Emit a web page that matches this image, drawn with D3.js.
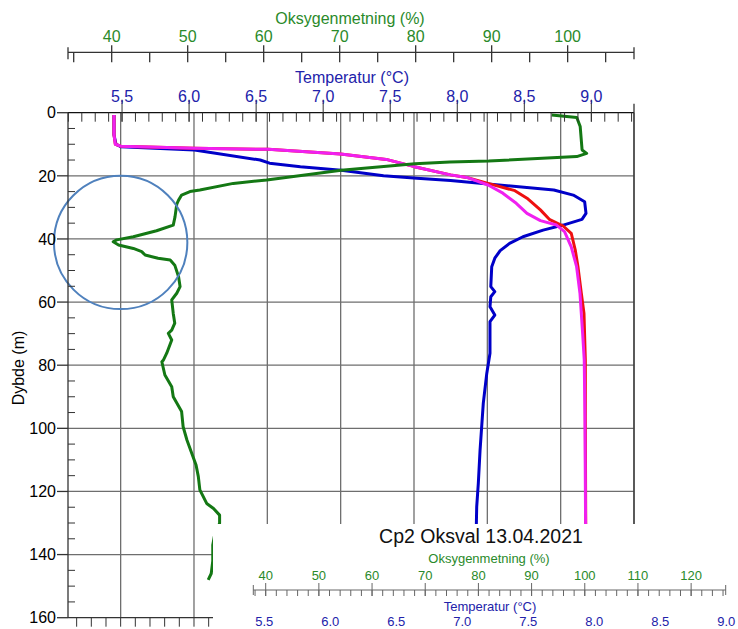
<!DOCTYPE html>
<html>
<head>
<meta charset="utf-8">
<script src="https://cdn.jsdelivr.net/npm/d3@7"></script>
<style>
  body { margin: 0; background: #fff; }
  text { font-family: "Liberation Sans", Arial, sans-serif; }
</style>
</head>
<body>
<div id="chart"></div>
<script>
// profiles: [depth (m), value]
const temperature = [
  [0.7, 5.44], [7, 5.44], [10, 5.455], [10.8, 5.49], [11.8, 6.04], [15, 6.53], [16, 6.60],
  [17.1, 6.83], [18.2, 7.135], [20, 7.45], [20.8, 7.70], [21.5, 7.95], [22.6, 8.23],
  [24.5, 8.72], [26.1, 8.865], [28.2, 8.95], [31.9, 8.96], [33.8, 8.93], [35.6, 8.79],
  [37.2, 8.64], [39.3, 8.49], [41.4, 8.39], [43.7, 8.32], [46.1, 8.28], [48.8, 8.257],
  [55.1, 8.25], [56.7, 8.28], [58.3, 8.25], [61.5, 8.244], [64.1, 8.28], [66.2, 8.244],
  [76.2, 8.244], [82.6, 8.22], [92.1, 8.194], [106.9, 8.17], [117.4, 8.157], [124.8, 8.145],
  [135, 8.14]
];
const seriesMagenta = [
  [0.7, 5.44], [7, 5.44], [10, 5.45], [10.6, 5.49], [11.3, 6.04], [11.6, 6.59], [13.1, 7.13],
  [14.8, 7.47], [17.1, 7.68], [19.7, 7.95], [20.5, 8.07], [22.9, 8.23], [25.5, 8.34],
  [28.7, 8.44], [31.9, 8.52], [34.2, 8.62], [35.6, 8.74], [37.7, 8.80], [42.5, 8.85],
  [48.8, 8.89], [57.2, 8.915], [69.9, 8.935], [78.4, 8.947], [96.3, 8.952], [130, 8.957],
  [135, 8.957]
];
const seriesRed = [
  [0.7, 5.44], [7, 5.44], [10, 5.45], [10.6, 5.49], [11.3, 6.04], [11.6, 6.59], [13.1, 7.13],
  [14.8, 7.47], [17.1, 7.68], [19.7, 7.95], [20.5, 8.07], [22.4, 8.23], [24.7, 8.43],
  [27.1, 8.52], [30.8, 8.62], [33.9, 8.69], [35.9, 8.79], [38.2, 8.85], [43.5, 8.88],
  [48.8, 8.90], [57.2, 8.925], [63.6, 8.945], [78.4, 8.955], [96.3, 8.955], [130, 8.958],
  [135, 8.958]
];
const oxygen = [
  [0.7, 97.9], [1.5, 101.2], [4.4, 101.65], [11.8, 101.9], [12.9, 102.5], [13.9, 101.2],
  [15.3, 89.6], [15.6, 84.5], [16.2, 79.9], [18.2, 70.2], [21.3, 60.4], [22.4, 56.0],
  [24.5, 51.6], [25.0, 50.3], [26.1, 49.2], [27.7, 48.8], [29, 48.56], [33, 48.33],
  [35.6, 48.1], [37.4, 45.9], [39.3, 42.85], [40.3, 40.66], [40.9, 40.2], [41.9, 40.9],
  [43, 42.85], [44, 43.95], [45.1, 44.4], [46.1, 46.1], [46.7, 47.7], [48.3, 48.3],
  [52, 48.8], [55.1, 49.0], [57.2, 48.56], [59.3, 47.9], [63.6, 48.1], [66.7, 48.3],
  [68.9, 47.9], [69.9, 47.45], [72, 47.9], [76.2, 47.24], [78.4, 46.8], [78.9, 46.6],
  [83.1, 47.0], [86.8, 47.9], [90, 48.1], [94.7, 49.2], [99.5, 49.4], [103.7, 49.9],
  [109, 50.7], [111.6, 51.1], [115.3, 51.4], [119.5, 51.6], [123.8, 52.5], [125.4, 53.4],
  [127.5, 54.2], [130.1, 54.2], [133, 53.6], [137, 53.3], [142, 53.3], [146, 53.1], [148, 52.7]
];

const depthTicks = [0, 20, 40, 60, 80, 100, 120, 140, 160];
const oxyTicks = [40, 50, 60, 70, 80, 90, 100];
const tempTicks = [5.5, 6.0, 6.5, 7.0, 7.5, 8.0, 8.5, 9.0];
const gridTicks = [0, 1, 2, 3, 4, 5, 6, 7];
const oxyTicksLow = [40, 50, 60, 70, 80, 90, 100, 110, 120];
const chartTitle = "Cp2 Oksval 13.04.2021";

const width = 738, height = 629;
const plot = { left: 68, right: 634, top: 112.7, bottom: 617.7 };
const GREEN = "#2a8a2a", BLUE = "#2222aa", AXIS = "#333";

const svg = d3.select("#chart").append("svg")
  .attr("width", width).attr("height", height);

const y = d3.scaleLinear().domain([0, 160]).range([plot.top, plot.bottom]);
const xTemp = d3.scaleLinear().domain([5.097, 9.318]).range([plot.left, plot.right]);
const xOxy = d3.scaleLinear().domain([34.25, 108.73]).range([plot.left, plot.right]);
const xGrid = d3.scaleLinear().domain([-0.718, 7]).range([plot.left, plot.right]);

// grid
svg.append("g").selectAll("line").data(gridTicks).join("line")
  .attr("x1", d => xGrid(d)).attr("x2", d => xGrid(d))
  .attr("y1", plot.top).attr("y2", plot.bottom)
  .attr("stroke", "#6e6e6e").attr("stroke-width", 1.3);
svg.append("g").selectAll("line").data(depthTicks.filter(d => d > 0 && d < 160)).join("line")
  .attr("x1", plot.left).attr("x2", plot.right)
  .attr("y1", d => y(d)).attr("y2", d => y(d))
  .attr("stroke", "#6e6e6e").attr("stroke-width", 1.3);

// profiles
svg.append("clipPath").attr("id", "clip").append("rect")
  .attr("x", plot.left).attr("y", plot.top)
  .attr("width", plot.right - plot.left).attr("height", plot.bottom - plot.top);
const lines = svg.append("g").attr("clip-path", "url(#clip)");
const tLine = d3.line().x(d => xTemp(d[1])).y(d => y(d[0])).curve(d3.curveLinear);
const oLine = d3.line().x(d => xOxy(d[1])).y(d => y(d[0]));

[[temperature, "#0000c8"], [seriesRed, "#ee1010"], [seriesMagenta, "#f020f0"]].forEach(([data, c]) => {
  lines.append("path").datum(data).attr("d", tLine)
    .attr("fill", "none").attr("stroke", c).attr("stroke-width", 3)
    .attr("stroke-linejoin", "round");
});
lines.append("path").datum(oxygen).attr("d", oLine)
  .attr("fill", "none").attr("stroke", "#147814").attr("stroke-width", 3)
  .attr("stroke-linejoin", "round");

// annotation circle round the oxygen minimum
svg.append("circle")
  .attr("cx", xGrid(0)).attr("cy", y(41.1)).attr("r", 66.7)
  .attr("fill", "none").attr("stroke", "#4f81bd").attr("stroke-width", 2);

// left depth axis
const yAxis = svg.append("g");
yAxis.append("line").attr("x1", plot.left).attr("x2", plot.left)
  .attr("y1", plot.top).attr("y2", plot.bottom).attr("stroke", AXIS).attr("stroke-width", 1.3);
yAxis.selectAll(".minor").data(d3.range(5, 160, 5).filter(d => d % 20 !== 0)).join("line")
  .attr("x1", plot.left).attr("x2", plot.left + 7)
  .attr("y1", d => y(d)).attr("y2", d => y(d)).attr("stroke", AXIS);
yAxis.selectAll(".major").data(depthTicks).join("line")
  .attr("x1", plot.left - 11).attr("x2", plot.left)
  .attr("y1", d => y(d)).attr("y2", d => y(d)).attr("stroke", AXIS).attr("stroke-width", 1.3);
yAxis.selectAll("text").data(depthTicks).join("text")
  .attr("x", 56).attr("y", d => y(d)).attr("dy", "0.36em")
  .attr("text-anchor", "end").attr("font-size", 16).text(d => d);
svg.append("text")
  .attr("transform", "translate(24,368) rotate(-90)")
  .attr("text-anchor", "middle").attr("font-size", 16).text("Dybde (m)");

// bottom and top frame
svg.append("line").attr("x1", plot.left).attr("x2", plot.right)
  .attr("y1", plot.bottom).attr("y2", plot.bottom).attr("stroke", AXIS).attr("stroke-width", 1.3);
svg.append("g").selectAll("line").data(d3.range(-0.6, 7.01, 0.2)).join("line")
  .attr("x1", d => xGrid(d)).attr("x2", d => xGrid(d))
  .attr("y1", plot.bottom).attr("y2", plot.bottom + 9).attr("stroke", AXIS);
svg.append("line").attr("x1", plot.left).attr("x2", plot.right)
  .attr("y1", plot.top).attr("y2", plot.top).attr("stroke", "#111").attr("stroke-width", 1.3);
svg.append("line").attr("x1", plot.right).attr("x2", plot.right)
  .attr("y1", plot.top - 9).attr("y2", plot.bottom).attr("stroke", AXIS).attr("stroke-width", 1.3);

// top temperature axis
const tAxis = svg.append("g");
tAxis.selectAll(".minor").data(d3.range(5.1, 9.31, 0.1)).join("line")
  .attr("x1", d => xTemp(d)).attr("x2", d => xTemp(d))
  .attr("y1", plot.top).attr("y2", plot.top + 9).attr("stroke", AXIS);
tAxis.selectAll(".major").data(tempTicks).join("line")
  .attr("x1", d => xTemp(d)).attr("x2", d => xTemp(d))
  .attr("y1", plot.top - 13).attr("y2", plot.top + 9).attr("stroke", AXIS);
tAxis.selectAll("text").data(tempTicks).join("text")
  .attr("x", d => xTemp(d)).attr("y", 101.7)
  .attr("text-anchor", "middle").attr("font-size", 16).attr("fill", BLUE)
  .text(d => d.toFixed(1).replace(".", ","));
svg.append("text").attr("x", 352).attr("y", 82.7)
  .attr("text-anchor", "middle").attr("font-size", 16).attr("fill", BLUE)
  .text("Temperatur (°C)");

// top oxygen axis
const oY = 52.3;
const oAxis = svg.append("g");
oAxis.append("line").attr("x1", plot.left).attr("x2", plot.right)
  .attr("y1", oY).attr("y2", oY).attr("stroke", AXIS).attr("stroke-width", 1.3);
oAxis.selectAll(".end").data([plot.left, plot.right]).join("line")
  .attr("x1", d => d).attr("x2", d => d)
  .attr("y1", oY - 5).attr("y2", oY + 7).attr("stroke", AXIS).attr("stroke-width", 1.3);
oAxis.selectAll(".minor").data(d3.range(35, 106, 10)).join("line")
  .attr("x1", d => xOxy(d)).attr("x2", d => xOxy(d))
  .attr("y1", oY).attr("y2", oY + 10).attr("stroke", AXIS).attr("stroke-width", 1.3);
oAxis.selectAll(".major").data(oxyTicks).join("line")
  .attr("x1", d => xOxy(d)).attr("x2", d => xOxy(d))
  .attr("y1", oY - 7).attr("y2", oY + 10).attr("stroke", AXIS).attr("stroke-width", 1.3);
oAxis.selectAll("text").data(oxyTicks).join("text")
  .attr("x", d => xOxy(d)).attr("y", 42)
  .attr("text-anchor", "middle").attr("font-size", 16).attr("fill", GREEN).text(d => d);
svg.append("text").attr("x", 350).attr("y", 24)
  .attr("text-anchor", "middle").attr("font-size", 16).attr("fill", GREEN)
  .text("Oksygenmetning (%)");

// pasted legend panel lower right
const box = svg.append("g");
box.append("rect").attr("x", 213).attr("y", 524).attr("width", width - 213).attr("height", height - 524)
  .attr("fill", "#fff");
box.append("text").attr("x", 481).attr("y", 543.3)
  .attr("text-anchor", "middle").attr("font-size", 19.5).attr("fill", "#111").text(chartTitle);

const xOxyLow = d3.scaleLinear().domain([37.67, 126.5]).range([253.3, 725.7]);
const xTempLow = d3.scaleLinear().domain([5.5, 9.0]).range([264.3, 726.3]);
const lowY = 590;
box.append("text").attr("x", 489).attr("y", 563.3)
  .attr("text-anchor", "middle").attr("font-size", 13).attr("fill", GREEN).text("Oksygenmetning (%)");
box.append("line").attr("x1", xOxyLow.range()[0]).attr("x2", xOxyLow.range()[1])
  .attr("y1", lowY).attr("y2", lowY).attr("stroke", "#666");
box.selectAll(".end").data(xOxyLow.range()).join("line")
  .attr("x1", d => d).attr("x2", d => d)
  .attr("y1", lowY - 5).attr("y2", lowY + 5).attr("stroke", "#666");
box.selectAll(".minor").data(d3.range(38, 127, 2)).join("line")
  .attr("x1", d => xOxyLow(d)).attr("x2", d => xOxyLow(d))
  .attr("y1", lowY).attr("y2", lowY + 6).attr("stroke", "#666");
box.selectAll(".major").data(oxyTicksLow).join("line")
  .attr("x1", d => xOxyLow(d)).attr("x2", d => xOxyLow(d))
  .attr("y1", lowY - 7).attr("y2", lowY + 6).attr("stroke", "#666");
box.selectAll(".olab").data(oxyTicksLow).join("text")
  .attr("x", d => xOxyLow(d)).attr("y", 580)
  .attr("text-anchor", "middle").attr("font-size", 13).attr("fill", GREEN).text(d => d);
box.append("text").attr("x", 490).attr("y", 610.5)
  .attr("text-anchor", "middle").attr("font-size", 13).attr("fill", BLUE).text("Temperatur (°C)");
box.selectAll(".tlab").data(tempTicks).join("text")
  .attr("x", d => xTempLow(d)).attr("y", 625.5)
  .attr("text-anchor", "middle").attr("font-size", 13).attr("fill", BLUE).text(d => d.toFixed(1));
</script>
</body>
</html>
